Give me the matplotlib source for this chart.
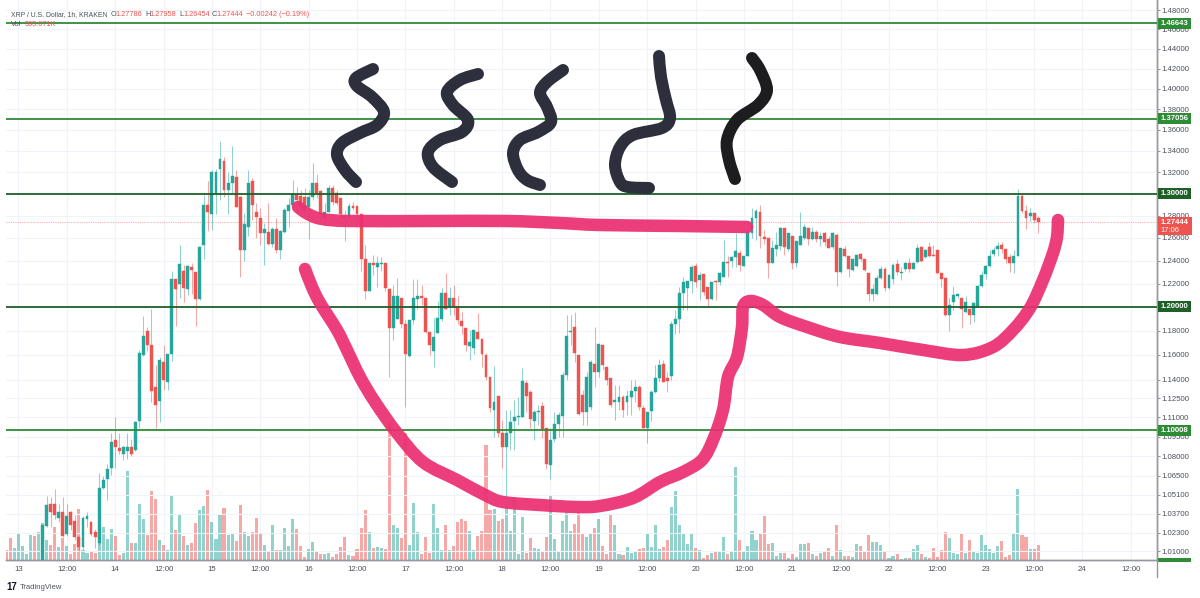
import numpy as np
import matplotlib
matplotlib.use('Agg')
import matplotlib.pyplot as plt
from matplotlib.path import Path
from matplotlib.patches import PathPatch, Rectangle

plt.rcParams['font.family'] = ['Liberation Sans', 'DejaVu Sans']

# hours since the 13th 00:00, one candle per hour (the first ones sit below the visible range)
hours = list(range(-3, 254))

opens = [
    .985, .979, .972, .978, .984, .988, .991, .994, .990, .999,
    1.028, 1.044, 1.044, 1.034, 1.038, 1.022, 1.038, 1.032, 1.020, 1.013,
    1.033, 1.031, 1.024, 1.016, 1.056, 1.063, 1.071, 1.092, 1.086, 1.082,
    1.084, 1.087, 1.085, 1.107, 1.160, 1.180, 1.168, 1.134, 1.123, 1.154,
    1.138, 1.161, 1.224, 1.220, 1.231, 1.215, 1.234, 1.230, 1.207, 1.254,
    1.290, 1.281, 1.301, 1.323, 1.330, 1.303, 1.310, 1.315, 1.297, 1.249,
    1.270, 1.312, 1.283, 1.278, 1.264, 1.265, 1.255, 1.268, 1.249, 1.265,
    1.284, 1.290, 1.299, 1.298, 1.297, 1.288, 1.297, 1.310, 1.302, 1.278,
    1.283, 1.305, 1.301, 1.296, 1.280, 1.279, 1.289, 1.289, 1.281, 1.241,
    1.214, 1.238, 1.234, 1.237, 1.238, 1.215, 1.182, 1.190, 1.208, 1.186,
    1.159, 1.189, 1.207, 1.209, 1.208, 1.179, 1.163, 1.178, 1.190, 1.212,
    1.200, 1.208, 1.200, 1.188, 1.182, 1.167, 1.166, 1.179, 1.173, 1.160,
    1.142, 1.116, 1.127, 1.098, 1.087, 1.098, 1.107, 1.110, 1.110, 1.137,
    1.130, 1.107, 1.114, 1.119, 1.102, 1.073, 1.093, 1.105, 1.111, 1.144,
    1.179, 1.183, 1.160, 1.128, 1.114, 1.118, 1.153, 1.146, 1.168, 1.150,
    1.141, 1.122, 1.122, 1.126, 1.122, 1.126, 1.131, 1.134, 1.117, 1.102,
    1.115, 1.130, 1.141, 1.153, 1.141, 1.143, 1.186, 1.190, 1.212, 1.216,
    1.222, 1.235, 1.223, 1.228, 1.217, 1.207, 1.222, 1.221, 1.226, 1.239,
    1.240, 1.243, 1.247, 1.235, 1.244, 1.264, 1.278, 1.283, 1.261, 1.260,
    1.238, 1.250, 1.253, 1.269, 1.250, 1.262, 1.238, 1.254, 1.260, 1.269,
    1.259, 1.265, 1.259, 1.264, 1.259, 1.252, 1.263, 1.230, 1.250, 1.244,
    1.232, 1.235, 1.246, 1.241, 1.229, 1.211, 1.211, 1.225, 1.233, 1.216,
    1.224, 1.237, 1.229, 1.233, 1.238, 1.233, 1.239, 1.252, 1.243, 1.252,
    1.245, 1.249, 1.229, 1.225, 1.193, 1.204, 1.209, 1.208, 1.196, 1.198,
    1.193, 1.201, 1.218, 1.228, 1.235, 1.246, 1.250, 1.254, 1.250, 1.243,
    1.238, 1.244, 1.298, 1.284, 1.280, 1.282, 1.27786,
]
closes = [
    .979, .972, .978, .984, .988, .991, .994, .990, .998, 1.029,
    1.043, 1.038, 1.036, 1.038, 1.021, 1.035, 1.029, 1.020, 1.013, 1.034,
    1.035, 1.022, 1.020, 1.056, 1.062, 1.070, 1.091, 1.087, 1.084, 1.087,
    1.087, 1.082, 1.106, 1.162, 1.176, 1.168, 1.131, 1.120, 1.156, 1.140,
    1.161, 1.224, 1.215, 1.237, 1.216, 1.235, 1.232, 1.207, 1.252, 1.290,
    1.283, 1.320, 1.320, 1.332, 1.303, 1.310, 1.316, 1.288, 1.249, 1.272,
    1.310, 1.290, 1.279, 1.264, 1.268, 1.255, 1.268, 1.249, 1.266, 1.285,
    1.290, 1.300, 1.294, 1.288, 1.285, 1.297, 1.310, 1.301, 1.281, 1.283,
    1.305, 1.292, 1.291, 1.281, 1.279, 1.289, 1.287, 1.281, 1.241, 1.214,
    1.238, 1.236, 1.238, 1.238, 1.216, 1.182, 1.209, 1.209, 1.186, 1.161,
    1.189, 1.208, 1.209, 1.208, 1.179, 1.168, 1.175, 1.191, 1.212, 1.198,
    1.208, 1.200, 1.189, 1.184, 1.168, 1.171, 1.181, 1.173, 1.161, 1.142,
    1.117, 1.122, 1.098, 1.087, 1.098, 1.106, 1.110, 1.111, 1.139, 1.127,
    1.109, 1.114, 1.115, 1.101, 1.074, 1.092, 1.105, 1.112, 1.144, 1.176,
    1.180, 1.162, 1.113, 1.114, 1.142, 1.154, 1.146, 1.169, 1.152, 1.140,
    1.120, 1.124, 1.126, 1.116, 1.127, 1.131, 1.134, 1.118, 1.102, 1.114,
    1.130, 1.141, 1.152, 1.138, 1.139, 1.186, 1.190, 1.212, 1.221, 1.222,
    1.234, 1.221, 1.227, 1.213, 1.207, 1.221, 1.221, 1.229, 1.239, 1.238,
    1.243, 1.248, 1.236, 1.244, 1.265, 1.278, 1.284, 1.262, 1.259, 1.238,
    1.251, 1.254, 1.269, 1.252, 1.264, 1.238, 1.257, 1.262, 1.270, 1.259,
    1.265, 1.259, 1.262, 1.256, 1.251, 1.264, 1.230, 1.251, 1.244, 1.233,
    1.241, 1.245, 1.241, 1.232, 1.211, 1.215, 1.225, 1.233, 1.216, 1.227,
    1.236, 1.230, 1.230, 1.238, 1.233, 1.238, 1.251, 1.240, 1.249, 1.244,
    1.244, 1.229, 1.224, 1.193, 1.202, 1.210, 1.211, 1.198, 1.204, 1.193,
    1.203, 1.218, 1.227, 1.235, 1.244, 1.249, 1.253, 1.250, 1.241, 1.238,
    1.244, 1.298, 1.284, 1.278, 1.282, 1.276, 1.27444,
]
highs = [
    .986, .980, .979, .985, .989, .992, .995, .995, .999, 1.029,
    1.050, 1.049, 1.055, 1.044, 1.049, 1.044, 1.039, 1.036, 1.021, 1.035,
    1.038, 1.032, 1.026, 1.067, 1.065, 1.074, 1.098, 1.110, 1.098, 1.088,
    1.098, 1.093, 1.107, 1.164, 1.192, 1.183, 1.198, 1.152, 1.158, 1.168,
    1.161, 1.231, 1.224, 1.254, 1.236, 1.236, 1.238, 1.230, 1.252, 1.299,
    1.312, 1.322, 1.323, 1.349, 1.334, 1.320, 1.344, 1.322, 1.298, 1.282,
    1.322, 1.314, 1.291, 1.287, 1.273, 1.291, 1.270, 1.278, 1.267, 1.287,
    1.296, 1.313, 1.306, 1.303, 1.305, 1.303, 1.328, 1.318, 1.303, 1.291,
    1.308, 1.308, 1.303, 1.296, 1.285, 1.291, 1.292, 1.289, 1.281, 1.254,
    1.238, 1.245, 1.244, 1.243, 1.238, 1.215, 1.219, 1.225, 1.208, 1.189,
    1.189, 1.224, 1.224, 1.219, 1.208, 1.179, 1.191, 1.205, 1.216, 1.229,
    1.217, 1.219, 1.209, 1.196, 1.182, 1.181, 1.181, 1.195, 1.173, 1.162,
    1.142, 1.151, 1.127, 1.108, 1.116, 1.116, 1.124, 1.126, 1.149, 1.140,
    1.132, 1.116, 1.120, 1.122, 1.102, 1.102, 1.114, 1.114, 1.146, 1.193,
    1.193, 1.196, 1.160, 1.132, 1.146, 1.156, 1.183, 1.169, 1.168, 1.150,
    1.141, 1.136, 1.136, 1.128, 1.132, 1.140, 1.140, 1.136, 1.120, 1.114,
    1.132, 1.152, 1.157, 1.156, 1.146, 1.188, 1.197, 1.217, 1.226, 1.222,
    1.236, 1.238, 1.230, 1.228, 1.217, 1.221, 1.223, 1.230, 1.258, 1.244,
    1.244, 1.264, 1.249, 1.244, 1.267, 1.287, 1.286, 1.290, 1.267, 1.260,
    1.258, 1.265, 1.270, 1.269, 1.264, 1.262, 1.257, 1.283, 1.272, 1.269,
    1.270, 1.267, 1.265, 1.265, 1.262, 1.265, 1.264, 1.251, 1.253, 1.244,
    1.242, 1.245, 1.247, 1.241, 1.229, 1.220, 1.227, 1.235, 1.234, 1.228,
    1.238, 1.241, 1.234, 1.239, 1.242, 1.239, 1.255, 1.253, 1.250, 1.256,
    1.254, 1.249, 1.229, 1.225, 1.208, 1.218, 1.211, 1.208, 1.209, 1.198,
    1.204, 1.219, 1.231, 1.236, 1.249, 1.252, 1.256, 1.256, 1.250, 1.246,
    1.249, 1.304, 1.300, 1.290, 1.287, 1.282, 1.27958,
]
lows = [
    .978, .971, .971, .977, .983, .987, .990, .989, .989, .998,
    1.027, 1.027, 1.033, 1.031, 1.020, 1.021, 1.025, 1.018, 1.010, 1.011,
    1.027, 1.021, 1.012, 1.014, 1.055, 1.047, 1.066, 1.071, 1.082, 1.077,
    1.078, 1.080, 1.084, 1.102, 1.159, 1.163, 1.122, 1.102, 1.106, 1.132,
    1.132, 1.155, 1.184, 1.208, 1.204, 1.210, 1.211, 1.184, 1.206, 1.241,
    1.266, 1.267, 1.281, 1.294, 1.297, 1.281, 1.301, 1.288, 1.226, 1.240,
    1.262, 1.276, 1.260, 1.254, 1.236, 1.254, 1.252, 1.247, 1.241, 1.264,
    1.270, 1.285, 1.281, 1.283, 1.281, 1.259, 1.294, 1.296, 1.278, 1.276,
    1.283, 1.290, 1.290, 1.279, 1.257, 1.278, 1.285, 1.278, 1.231, 1.207,
    1.214, 1.227, 1.217, 1.231, 1.214, 1.142, 1.172, 1.190, 1.182, 1.118,
    1.158, 1.186, 1.198, 1.202, 1.178, 1.160, 1.150, 1.178, 1.188, 1.198,
    1.193, 1.193, 1.186, 1.177, 1.163, 1.156, 1.161, 1.173, 1.150, 1.140,
    1.114, 1.095, 1.095, 1.071, 1.049, 1.085, 1.085, 1.104, 1.110, 1.114,
    1.102, 1.092, 1.104, 1.094, 1.070, 1.063, 1.091, 1.095, 1.095, 1.140,
    1.168, 1.154, 1.112, 1.104, 1.104, 1.116, 1.134, 1.142, 1.148, 1.136,
    1.118, 1.108, 1.116, 1.110, 1.112, 1.112, 1.122, 1.116, 1.102, 1.090,
    1.107, 1.129, 1.138, 1.138, 1.130, 1.140, 1.177, 1.178, 1.197, 1.197,
    1.212, 1.217, 1.206, 1.210, 1.201, 1.206, 1.206, 1.219, 1.226, 1.226,
    1.234, 1.234, 1.231, 1.235, 1.244, 1.260, 1.258, 1.251, 1.255, 1.225,
    1.238, 1.244, 1.249, 1.245, 1.248, 1.233, 1.234, 1.254, 1.258, 1.254,
    1.258, 1.256, 1.253, 1.253, 1.251, 1.250, 1.218, 1.229, 1.243, 1.226,
    1.231, 1.234, 1.240, 1.231, 1.205, 1.205, 1.210, 1.224, 1.214, 1.215,
    1.220, 1.227, 1.223, 1.231, 1.230, 1.233, 1.238, 1.239, 1.242, 1.243,
    1.244, 1.228, 1.217, 1.192, 1.180, 1.197, 1.208, 1.182, 1.195, 1.186,
    1.187, 1.200, 1.217, 1.224, 1.234, 1.244, 1.244, 1.247, 1.238, 1.230,
    1.229, 1.244, 1.282, 1.268, 1.275, 1.273, 1.26454,
]
# volume, in units of about 13K (last bar is 585.671K)
volume = [
    31, 66, 36, 81, 43, 19, 76, 73, 85, 111,
    61, 46, 101, 41, 68, 43, 18, 49, 155, 31,
    21, 25, 21, 81, 99, 65, 94, 73, 16, 23,
    268, 53, 52, 169, 125, 76, 208, 183, 61, 45,
    31, 196, 91, 138, 73, 46, 53, 111, 152, 164,
    211, 116, 64, 138, 157, 76, 79, 59, 166, 85,
    74, 85, 127, 82, 45, 26, 107, 31, 31, 97,
    44, 125, 93, 44, 9, 34, 54, 26, 18, 18,
    21, 10, 18, 39, 71, 16, 14, 34, 98, 150,
    85, 37, 39, 37, 35, 416, 106, 96, 68, 381,
    46, 171, 85, 19, 69, 21, 169, 96, 31, 106,
    31, 44, 115, 125, 119, 88, 31, 73, 89, 346,
    151, 154, 119, 123, 158, 87, 190, 19, 129, 21,
    66, 36, 34, 26, 69, 194, 64, 25, 117, 143,
    88, 110, 146, 79, 71, 79, 97, 125, 44, 19,
    139, 107, 19, 16, 39, 21, 25, 33, 36, 81,
    39, 105, 34, 40, 61, 161, 207, 107, 83, 48,
    79, 36, 30, 8, 16, 21, 25, 29, 70, 20,
    27, 280, 62, 25, 43, 89, 60, 79, 133, 49,
    52, 14, 21, 21, 7, 18, 10, 48, 48, 52,
    18, 12, 23, 27, 37, 14, 107, 32, 14, 14,
    9, 48, 43, 29, 76, 55, 55, 46, 25, 7,
    14, 20, 4, 7, 7, 35, 45, 19, 10, 7,
    37, 10, 32, 85, 67, 23, 19, 79, 21, 62,
    28, 23, 76, 45, 35, 21, 43, 58, 10, 16,
    80, 213, 75, 71, 34, 34, 46,
]

price_ticks = [1.48, 1.46, 1.44, 1.42, 1.40, 1.38, 1.36, 1.34, 1.32, 1.30, 1.28, 1.26, 1.24, 1.22, 1.20,
               1.18, 1.16, 1.14, 1.125, 1.11, 1.095, 1.08, 1.065, 1.051, 1.037, 1.023, 1.01]
# these two sit fully under the level tags
hidden_price_labels = [1.30, 1.20]
time_ticks = list(range(0, 277, 12))
time_labels = ['13', '12:00', '14', '12:00', '15', '12:00', '16', '12:00', '17', '12:00', '18', '12:00',
               '19', '12:00', '20', '12:00', '21', '12:00', '22', '12:00', '23', '12:00', '24', '12:00']

level_prices = [1.46643, 1.37056, 1.30, 1.20, 1.10008]
level_labels = ['1.46643', '1.37056', '1.30000', '1.20000', '1.10008']
level_colors = ['#2e8b36', '#2e8b36', '#1f5f28', '#1f5f28', '#2e8b36']
last_price = 1.27444

# hand drawn strokes on the screenshot, in picture pixels
pink_top = [(298, 207), (308, 214), (322, 219), (350, 221), (430, 221), (507, 221), (560, 223),
            (600, 225), (680, 226), (747, 227)]
pink_bowl = [(305, 269), (312, 287), (320, 303), (337, 330), (347, 350), (360, 377), (375, 402), (397, 433),
             (423, 462), (457, 480), (485, 495), (503, 502), (540, 505), (577, 507), (600, 506), (633, 498),
             (660, 482), (683, 472), (702, 460), (713, 440), (723, 410), (728, 377), (737, 357), (742, 327),
             (743, 307), (750, 301), (763, 305), (780, 317), (807, 327), (840, 337), (880, 343), (923, 350),
             (963, 355), (993, 347), (1013, 330), (1030, 308), (1043, 280), (1053, 253), (1057, 237), (1058, 220)]
dark_strokes = [
    [(373, 69), (356, 78), (357, 86), (372, 97), (384, 112), (377, 125), (360, 133), (342, 143), (337, 155),
     (345, 170), (356, 182)],
    [(478, 74), (460, 80), (447, 92), (453, 105), (468, 120), (462, 132), (440, 140), (428, 152), (433, 167),
     (452, 182)],
    [(563, 70), (547, 82), (540, 93), (547, 107), (551, 122), (538, 132), (520, 140), (513, 153), (518, 170),
     (527, 180), (540, 185)],
    [(659, 56), (661, 77), (666, 100), (670, 118), (662, 128), (633, 135), (620, 147), (615, 165), (620, 182),
     (628, 187), (649, 188)],
]
black_stroke = [(752, 58), (760, 70), (767, 90), (758, 105), (737, 120), (727, 140), (729, 160), (735, 179)]

GREEN = '#26a69a'
RED = '#ef5350'
AXIS = '#9598a1'
TEXT = '#4a4f5c'
GRID = '#f0f3fa'

fig = plt.figure(figsize=(12, 5.98), dpi=100, facecolor='white')
ax_rect = [6 / 1200, 1 - 560.3 / 598, 1151 / 1200, 560.3 / 598]

# volume first so the candles sit on top
ax_vol = fig.add_axes(ax_rect)
ax = ax_vol.twinx()
ax.set_zorder(2)
ax.patch.set_visible(False)
ax_vol.set_zorder(1)

up = [c >= o for o, c in zip(opens, closes, strict=True)]
ax_vol.bar(hours, volume, width=0.76, color=[GREEN if u else RED for u in up], alpha=0.5, linewidth=0)
ax_vol.set_ylim(0, 1681)
ax_vol.set_xlim(-3.1, 282.5)
ax_vol.set_yticks([])
ax_vol.set_xticks(time_ticks)
ax_vol.set_xticklabels(time_labels, fontsize=5.6, color=TEXT)
ax_vol.tick_params(axis='x', length=0, pad=4)
ax_vol.grid(axis='x', color=GRID, lw=0.8)
ax_vol.set_axisbelow(True)

ax.set_yscale('log')
ax.set_ylim(1.0034, 1.4905)
ax.yaxis.set_major_locator(matplotlib.ticker.FixedLocator(price_ticks))
ax.yaxis.set_minor_locator(matplotlib.ticker.NullLocator())
ax.yaxis.set_major_formatter(matplotlib.ticker.FuncFormatter(
    lambda v, _: '' if any(abs(v - h) < 1e-6 for h in hidden_price_labels) else f'{v:.5f}'))
ax.tick_params(axis='y', length=2.5, width=0.8, color=AXIS, labelsize=5.6, labelcolor=TEXT, pad=0.3)
ax.grid(axis='y', color=GRID, lw=0.8)
ax.set_axisbelow(True)

for a in (ax, ax_vol):
    for side in ('top', 'left'):
        a.spines[side].set_visible(False)
    a.spines['right'].set_color(AXIS)
    a.spines['bottom'].set_color(AXIS)
    a.spines['right'].set_linewidth(1.0)
    a.spines['bottom'].set_linewidth(1.0)

candle_colors = [GREEN if u else RED for u in up]
ax.vlines(hours, lows, highs, colors=candle_colors, linewidth=0.75, alpha=0.5, zorder=3)
ax.bar(hours, [abs(c - o) for o, c in zip(opens, closes)], bottom=[min(o, c) for o, c in zip(opens, closes)],
       width=0.72, color=candle_colors, edgecolor=candle_colors, linewidth=0.3, zorder=4)

ax.axhline(last_price, color=RED, lw=0.8, ls=(0, (1, 1)), alpha=0.45, zorder=2)
for price, color in zip(level_prices, level_colors):
    ax.axhline(price, color=color, lw=1.3, zorder=5)

# overlay in picture pixels for the drawn strokes, price tags and header
over = fig.add_axes([0, 0, 1, 1], zorder=5)
over.set_xlim(0, 1200)
over.set_ylim(598, 0)
over.axis('off')


def stroke(points, color, width, alpha=1.0):
    # catmull-rom through the read points, gives the smooth marker look
    pts = np.array(points, dtype=float)
    verts = [pts[0]]
    codes = [Path.MOVETO]
    for i in range(len(pts) - 1):
        p0 = pts[max(i - 1, 0)]
        p3 = pts[min(i + 2, len(pts) - 1)]
        verts += [pts[i] + (pts[i + 1] - p0) / 6, pts[i + 1] - (p3 - pts[i]) / 6, pts[i + 1]]
        codes += [Path.CURVE4] * 3
    over.add_patch(PathPatch(Path(verts, codes), fc='none', ec=color, lw=width * 0.72, alpha=alpha,
                             capstyle='round', joinstyle='round'))


stroke(pink_top, '#ec2f72', 12.5, 0.93)
stroke(pink_bowl, '#ec2f72', 12.5, 0.93)
for s in dark_strokes:
    stroke(s, '#2d2f3d', 12)
stroke(black_stroke, '#1d1d1f', 12)

fig.canvas.draw()
for price, label, color in zip(level_prices, level_labels, level_colors):
    y = 598 - ax.transData.transform((0, price))[1]
    over.add_patch(Rectangle((1157.5, y - 5.5), 33.5, 11, fc=color, ec='none'))
    over.text(1174.5, y, label, color='white', fontsize=5.6, fontweight='bold', ha='center', va='center')

y = 598 - ax.transData.transform((0, last_price))[1]
over.add_patch(Rectangle((1157.5, y - 4.5), 34, 18, fc=RED, ec='none'))
over.text(1174.5, y + 0.5, '1.27444', color='white', fontsize=5.6, fontweight='bold', ha='center', va='center')
over.text(1170, y + 8.5, '17:06', color='white', fontsize=5.4, ha='center', va='center')
over.add_patch(Rectangle((1157.5, 558), 33.5, 3.5, fc='#2e8b36', ec='none'))
over.plot([1157, 1157], [560, 577], color=AXIS, lw=1.0)

RED_TXT = '#ef5350'
head_y = 14.5
over.text(11, head_y, 'XRP / U.S. Dollar, 1h, KRAKEN', color=TEXT, fontsize=4.95, va='center')
for x, s, c in [(111, 'O', TEXT), (115.5, '1.27786', RED_TXT), (145, 'H', TEXT), (149.5, '1.27958', RED_TXT),
                (179, 'L', TEXT), (183.5, '1.26454', RED_TXT), (212, 'C', TEXT), (216.5, '1.27444', RED_TXT),
                (246, '\u22120.00242 (\u22120.19%)', RED_TXT)]:
    over.text(x, head_y, s, color=c, fontsize=5.3, va='center')
over.text(11, 25, 'Vol', color=TEXT, fontsize=5.3, va='center')
over.text(25, 25, '585.671K', color=RED_TXT, fontsize=5.3, va='center')

over.text(6, 587.5, '17', color='#131722', fontsize=7, fontweight='bold', va='center')
over.text(20, 587.5, 'TradingView', color='#50535e', fontsize=5.5, va='center')

fig.savefig('out.png', dpi=100, facecolor='white')
